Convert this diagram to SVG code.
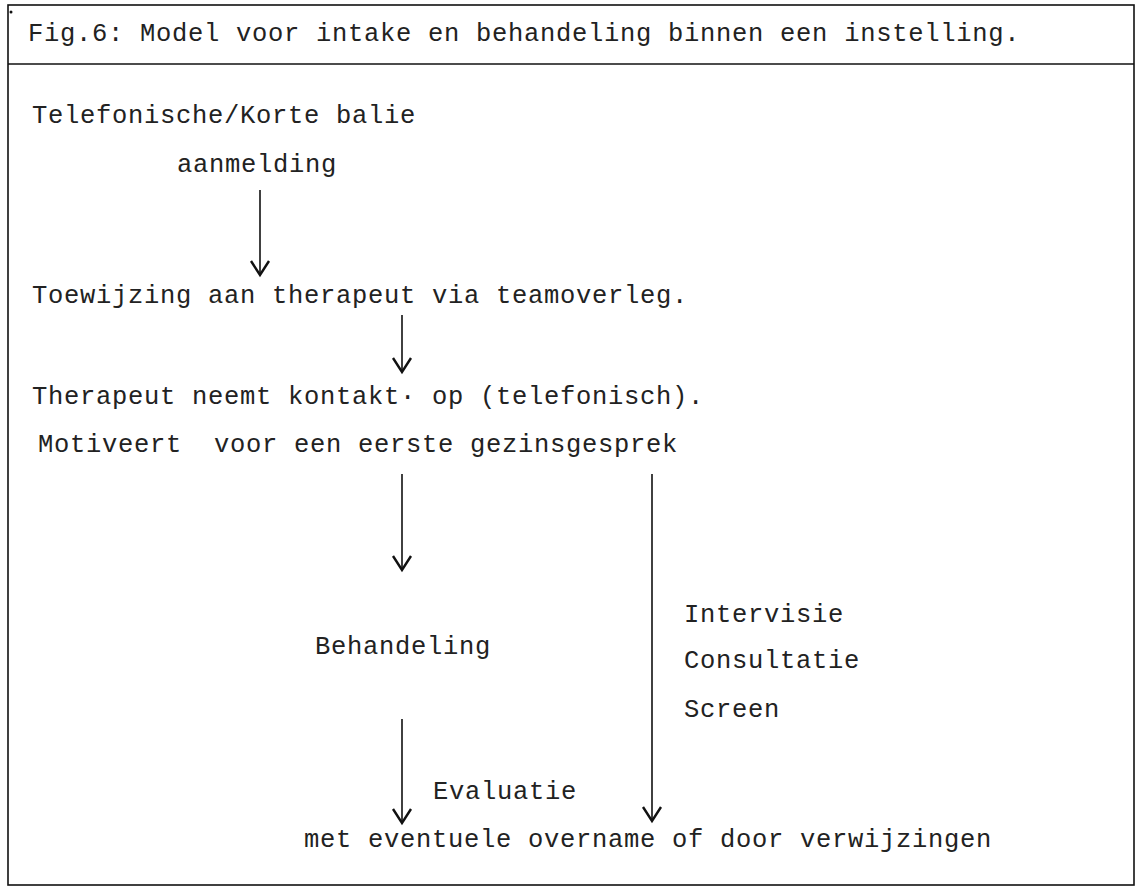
<svg xmlns="http://www.w3.org/2000/svg" width="1141" height="888" viewBox="0 0 1141 888">
  <style>
    .t { font-family: "Liberation Mono", "DejaVu Sans Mono", monospace; font-size: 25.5px; letter-spacing: 0.7px; fill: #222; white-space: pre; }
    .frame { fill: none; stroke: #111; stroke-width: 1.6; }
    .conn line { stroke: #111; stroke-width: 1.6; fill: none; }
  </style>
  <defs>
    <marker id="vhead" markerUnits="userSpaceOnUse" markerWidth="30" markerHeight="30" viewBox="-16 -15 20 30" refX="0" refY="0" orient="auto">
      <path d="M -14 -9 L 0 0 L -14 9" fill="none" stroke="#111" stroke-width="2.4" stroke-linejoin="miter"/>
    </marker>
  </defs>
  <rect width="1141" height="888" fill="#ffffff"/>
  <g id="frame">
    <rect class="frame" x="8" y="5" width="1126" height="880"/>
    <line x1="8" y1="64" x2="1134" y2="64" stroke="#111" stroke-width="1.6"/>
    <circle cx="11" cy="12" r="1.5" fill="#111"/>
  </g>
  <g id="title"><text class="t" x="28" y="41">Fig.6: Model voor intake en behandeling binnen een instelling.</text></g>
  <g id="aanmelding">
    <text class="t" x="32" y="123">Telefonische/Korte balie</text>
    <text class="t" x="177" y="172">aanmelding</text>
  </g>
  <g id="toewijzing"><text class="t" x="32" y="303">Toewijzing aan therapeut via teamoverleg.</text></g>
  <g id="kontakt">
    <text class="t" x="32" y="404">Therapeut neemt kontakt· op (telefonisch).</text>
    <text class="t" x="38" y="452">Motiveert  voor een eerste gezinsgesprek</text>
  </g>
  <g id="behandeling"><text class="t" x="315" y="654">Behandeling</text></g>
  <g id="supervisie">
    <text class="t" x="684" y="622">Intervisie</text>
    <text class="t" x="684" y="668">Consultatie</text>
    <text class="t" x="684" y="717">Screen</text>
  </g>
  <g id="evaluatie"><text class="t" x="433" y="799">Evaluatie</text></g>
  <g id="afsluiting"><text class="t" x="304" y="847">met eventuele overname of door verwijzingen</text></g>
  <g id="connectors" class="conn">
    <line x1="260" y1="190" x2="260" y2="275" marker-end="url(#vhead)"/>
    <line x1="402" y1="315" x2="402" y2="372" marker-end="url(#vhead)"/>
    <line x1="402" y1="474" x2="402" y2="570" marker-end="url(#vhead)"/>
    <line x1="402" y1="719" x2="402" y2="823" marker-end="url(#vhead)"/>
    <line x1="652" y1="474" x2="652" y2="821" marker-end="url(#vhead)"/>
  </g>
</svg>
